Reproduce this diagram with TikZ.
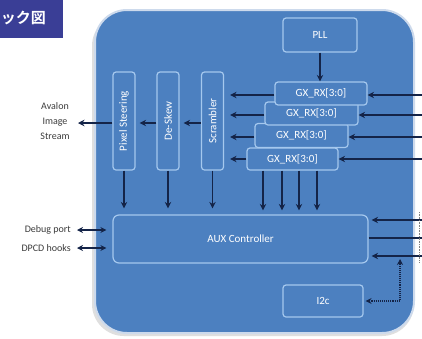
\documentclass[tikz,border=0pt]{standalone}
\usepackage{fontspec}
\setmainfont{Carlito}
\newfontfamily\cjk{Noto Sans CJK JP Bold}
\usetikzlibrary{arrows.meta}
\definecolor{mainblue}{RGB}{76,128,192}
\definecolor{boxline}{RGB}{165,200,238}
\definecolor{arrowc}{RGB}{20,36,72}
\definecolor{titlebg}{RGB}{58,62,150}
\definecolor{labelc}{RGB}{60,60,60}
\definecolor{frame}{RGB}{205,218,236}
\begin{document}
\begin{tikzpicture}[x=1pt,y=-1pt,
  blk/.style={draw=boxline, line width=1.2pt, fill=mainblue, rounded corners=3pt,
    text=white, font=\fontsize{11}{12}\selectfont, inner sep=0pt},
  arr/.style={draw=arrowc, line width=1.5pt, -{Stealth[length=6.5pt,width=6.5pt]}},
  darr/.style={draw=arrowc, line width=1.5pt, {Stealth[length=6pt,width=6pt]}-{Stealth[length=6pt,width=6pt]}},
  plain/.style={draw=arrowc, line width=1.5pt},
  dotarr/.style={draw=arrowc, line width=1.1pt, densely dotted, {Stealth[length=6pt,width=6pt]}-{Stealth[length=6pt,width=6pt]}},
  outlbl/.style={text=labelc, font=\fontsize{10}{15}\selectfont, inner sep=0pt}]
\useasboundingbox (0,0) rectangle (422,338);
\fill[white] (0,0) rectangle (422,338);
% title
\node[fill=titlebg, minimum width=63pt, minimum height=38pt, inner sep=0pt, anchor=north west] (title) at (0,0) {};
\node[text=white, font=\cjk\fontsize{15}{15}\selectfont, anchor=east, inner sep=0pt] (titletxt) at (46,18) {ック図};
% main frame
\fill[gray!25, rounded corners=32pt] (92,14) rectangle (414,336);
\filldraw[fill=mainblue, draw=frame, line width=2pt, rounded corners=32pt] (95,10) rectangle (414,333);
% blocks
\node[blk, minimum width=74pt, minimum height=34pt] (pll) at (320,35) {PLL};
\node[blk, minimum width=91pt, minimum height=22pt] (gx4) at (292.5,159) {GX\_RX[3:0]};
\node[blk, minimum width=93pt, minimum height=24pt] (gx3) at (301.5,135.5) {GX\_RX[3:0]};
\node[blk, minimum width=93pt, minimum height=23pt] (gx2) at (311.5,113.5) {GX\_RX[3:0]};
\node[blk, minimum width=92pt, minimum height=23pt] (gx1) at (321,93.5) {GX\_RX[3:0]};
\node[blk, minimum width=22pt, minimum height=98pt] (ps) at (124,121) {\rotatebox{90}{Pixel Steering}};
\node[blk, minimum width=22pt, minimum height=98pt] (ds) at (168,121) {\rotatebox{90}{De-Skew}};
\node[blk, minimum width=22pt, minimum height=98pt] (scr) at (212.5,121) {\rotatebox{90}{Scrambler}};
\node[blk, rounded corners=6pt, minimum width=255pt, minimum height=48pt] (aux) at (240.5,239) {AUX Controller};
\node[blk, minimum width=80pt, minimum height=32pt] (i2c) at (323,301) {I2c};
% outside labels
\node[outlbl, align=center] (avalon) at (55,121) {Avalon\\Image\\Stream};
\node[outlbl, anchor=east] (debug) at (71,230) {Debug port};
\node[outlbl, anchor=east] (dpcd) at (71,248) {DPCD hooks};
% coordinates
\coordinate (r1) at (422,95);
\coordinate (r2) at (422,115);
\coordinate (r3) at (422,137);
\coordinate (r4) at (422,159);
\coordinate (ra) at (422,220);
\coordinate (rb) at (422,238);
\coordinate (rc) at (422,256);
\coordinate (dcorner) at (400,301);
\coordinate (avout) at (78,123);
\coordinate (dbg) at (77,230);
\coordinate (dpc) at (77,248);
% PLL to GX
\draw[arr] (pll.south) -- (pll.south |- gx1.north);
% right inputs
\draw[arr] (r1) -- (r1 -| gx1.east);
\draw[arr] (r2) -- (r2 -| gx2.east);
\draw[arr] (r3) -- (r3 -| gx3.east);
\draw[arr] (r4) -- (r4 -| gx4.east);
% GX to scrambler
\draw[arr, shorten >=6pt] (gx1.west |- r1) -- (scr.east |- r1);
\draw[arr, shorten >=6pt] (gx2.west |- r2) -- (scr.east |- r2);
\draw[arr, shorten >=6pt] (gx3.west |- r3) -- (scr.east |- r3);
\draw[arr, shorten >=6pt] (gx4.west |- r4) -- (scr.east |- r4);
% chain
\draw[arr, shorten >=4pt] (scr.west |- avout) -- (ds.east |- avout);
\draw[arr, shorten >=4pt] (ds.west |- avout) -- (ps.east |- avout);
\draw[arr] (ps.west |- avout) -- (avout);
% down arrows
\draw[arr, shorten >=6pt] (ps.south) -- (ps.south |- aux.north);
\draw[arr, shorten >=6pt] (ds.south) -- (ds.south |- aux.north);
\draw[arr, shorten >=6pt] (scr.south) -- (scr.south |- aux.north);
\foreach \xx in {263,282,299,317}{
  \draw[arr, shorten >=4pt] (\xx,0 |- gx4.south) -- (\xx,0 |- aux.north);
}
% AUX right side
\draw[arr, shorten >=3pt] (ra) -- (ra -| aux.east);
\draw[plain] (aux.east |- rb) -- (rb);
\draw[arr, shorten >=3pt] (rc) -- (rc -| aux.east);
\draw[densely dotted, line width=0.6pt, gray] (419,212) -- (419,262);
% I2C dotted
\draw[dotarr, shorten <=2pt] (i2c.east) -- (dcorner) -- (dcorner |- 0,259);
% left double arrows
\draw[darr, shorten >=6pt] (dbg) -- (dbg -| aux.west);
\draw[darr, shorten >=6pt] (dpc) -- (dpc -| aux.west);
\end{tikzpicture}
\end{document}
